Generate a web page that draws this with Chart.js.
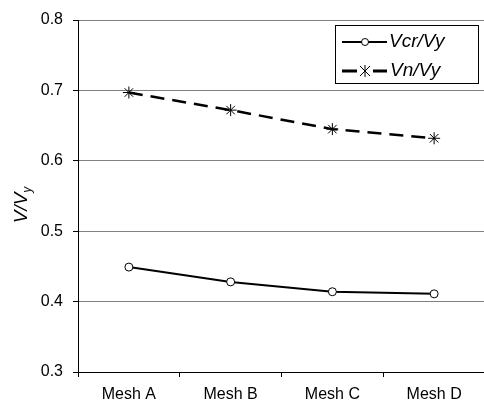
<!DOCTYPE html>
<html>
<head>
<meta charset="utf-8">
<title>V/Vy by mesh</title>
<script src="https://cdn.jsdelivr.net/npm/chart.js@4"></script>
<style>
  html, body { margin: 0; padding: 0; background: #fff; overflow: hidden; }
</style>
</head>
<body>
<canvas id="chart" width="492" height="409"></canvas>
<script>
var categories = ["Mesh A", "Mesh B", "Mesh C", "Mesh D"];
var vcrVy = [0.449, 0.428, 0.414, 0.411];
var vnVy = [0.697, 0.672, 0.645, 0.632];
var yTicks = [0.3, 0.4, 0.5, 0.6, 0.7, 0.8];

var FONT = "'Liberation Sans', Arial, sans-serif";

// legend box + y axis title, drawn on the canvas
var extras = {
  id: "extras",
  afterDraw: function(chart) {
    var c = chart.ctx;
    c.save();
    // y title V/V_y
    c.translate(22, 205);
    c.rotate(-Math.PI / 2);
    c.fillStyle = "#000";
    c.textBaseline = "middle";
    c.font = "italic 19px " + FONT;
    var w1 = c.measureText("V/V").width;
    c.font = "italic 12px " + FONT;
    var w2 = c.measureText("y").width;
    var x0 = -(w1 + w2) / 2;
    c.font = "italic 19px " + FONT;
    c.fillText("V/V", x0, 0);
    c.font = "italic 12px " + FONT;
    c.fillText("y", x0 + w1, 6);
    c.restore();

    // legend
    c.save();
    c.fillStyle = "#fff";
    c.fillRect(335, 25, 144, 59);
    c.strokeStyle = "#000";
    c.lineWidth = 1;
    c.strokeRect(335.5, 25.5, 143, 58);
    c.lineWidth = 2;
    c.beginPath();
    c.moveTo(342, 42); c.lineTo(387, 42);
    c.stroke();
    c.beginPath();
    c.arc(365, 42, 3.5, 0, Math.PI * 2);
    c.fillStyle = "#fff"; c.fill();
    c.lineWidth = 1; c.stroke();
    c.lineWidth = 3;
    c.beginPath();
    c.moveTo(342, 71); c.lineTo(357, 71);
    c.moveTo(373, 71); c.lineTo(387, 71);
    c.stroke();
    c.lineWidth = 1;
    c.beginPath();
    c.moveTo(365, 65); c.lineTo(365, 77);
    c.moveTo(360, 66); c.lineTo(370, 76);
    c.moveTo(370, 66); c.lineTo(360, 76);
    c.stroke();
    c.fillStyle = "#000";
    c.font = "italic 19px " + FONT;
    c.textBaseline = "middle";
    c.fillText("Vcr/Vy", 389, 42);
    c.fillText("Vn/Vy", 390, 71);
    c.restore();
  }
};

new Chart(document.getElementById("chart"), {
  type: "line",
  data: {
    labels: categories,
    datasets: [
      {
        label: "Vcr/Vy",
        data: vcrVy,
        borderColor: "#000",
        borderWidth: 2,
        pointStyle: "circle",
        pointRadius: 4,
        pointBackgroundColor: "#fff",
        pointBorderColor: "#000",
        pointBorderWidth: 1
      },
      {
        label: "Vn/Vy",
        data: vnVy,
        borderColor: "#000",
        borderWidth: 2.5,
        borderDash: [14, 8],
        pointStyle: "star",
        pointRadius: 6,
        pointBorderColor: "#000",
        pointBorderWidth: 1
      }
    ]
  },
  options: {
    responsive: false,
    animation: false,
    layout: { padding: { left: 0, right: 0, top: 20, bottom: 0 } },
    plugins: { legend: { display: false }, tooltip: { enabled: false } },
    scales: {
      x: {
        offset: true,
        grid: { offset: true, display: true, drawOnChartArea: false, drawTicks: true, tickLength: 5, color: "#000" },
        border: { color: "#000", width: 1 },
        ticks: { color: "#000", font: { family: FONT, size: 16 }, padding: 8, maxRotation: 0, autoSkip: false },
        afterFit: function(s) { s.height = 37; }
      },
      y: {
        min: 0.3,
        max: 0.8,
        afterBuildTicks: function(s) { s.ticks = yTicks.map(function(v) { return { value: v }; }); },
        grid: { color: "#808080", lineWidth: 1, tickLength: 5, tickColor: "#000" },
        border: { color: "#000", width: 1 },
        ticks: {
          color: "#000",
          font: { family: FONT, size: 16 },
          padding: 10,
          callback: function(v) { return v.toFixed(1); }
        },
        afterFit: function(s) { s.width = 78; }
      }
    }
  },
  plugins: [extras]
});
</script>
</body>
</html>
